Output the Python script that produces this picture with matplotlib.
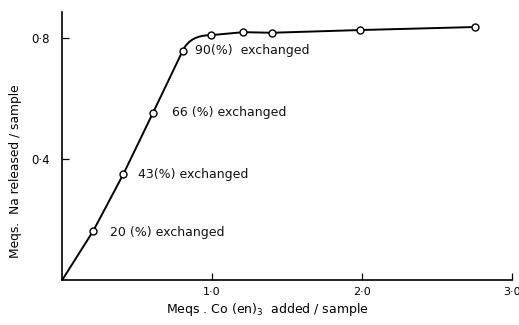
import numpy as np
import matplotlib
matplotlib.use("Agg")
import matplotlib.pyplot as plt

# Co(en)3 added vs Na released (meq per sample)
co_added = [0.209, 0.409, 0.605, 0.805, 0.991, 1.209, 1.398, 1.987, 2.755]
na_released = [0.164, 0.351, 0.552, 0.759, 0.810, 0.820, 0.818, 0.827, 0.837]

labels = ["20 (%) exchanged", "43(%) exchanged", "66 (%) exchanged", "90(%)  exchanged"]
label_pos = [(0.32, 0.158), (0.505, 0.349), (0.73, 0.554), (0.885, 0.758)]

x_ticks = [1.0, 2.0, 3.0]
x_ticklabels = ["1·0", "2·0", "3·0"]
y_ticks = [0.4, 0.8]
y_ticklabels = ["0·4", "0·8"]

plt.rcParams['font.family'] = ['DejaVu Sans']

fig = plt.figure(figsize=(5.19, 3.25), dpi=100)
ax = fig.add_axes([0.1195, 0.1375, 0.867, 0.825])

# fitted curve: straight rise from the origin, rounded knee, then near-flat plateau
x0, y0 = co_added[3], na_released[3]
x2, y2 = co_added[4], na_released[4]
slope = (na_released[3] - na_released[2]) / (co_added[3] - co_added[2])
cx = x0 + (y2 - y0) / slope
t = np.linspace(0, 1, 40)
bx = (1 - t) ** 2 * x0 + 2 * (1 - t) * t * cx + t ** 2 * x2
by = (1 - t) ** 2 * y0 + 2 * (1 - t) * t * y2 + t ** 2 * y2
curve_x = np.concatenate([[0.0], co_added[:3], bx, co_added[5:]])
curve_y = np.concatenate([[0.0], na_released[:3], by, na_released[5:]])
ax.plot(curve_x, curve_y, color="black", lw=1.4, zorder=2)

ax.plot(co_added, na_released, linestyle="none", marker="o", markersize=5,
        markerfacecolor="white", markeredgecolor="black", markeredgewidth=1.0, zorder=3)

for txt, (tx, ty) in zip(labels, label_pos):
    ax.text(tx, ty, txt, fontsize=9, va="center", ha="left", color="#111111")

ax.set_xlim(0, 3.0)
ax.set_ylim(0, 0.886)
ax.spines["top"].set_visible(False)
ax.spines["right"].set_visible(False)
ax.spines["left"].set_linewidth(1.2)
ax.spines["bottom"].set_linewidth(1.2)
ax.set_xticks(x_ticks)
ax.set_xticklabels(x_ticklabels, fontsize=8)
ax.set_yticks(y_ticks)
ax.set_yticklabels(y_ticklabels, fontsize=8.5)
ax.tick_params(direction="in", length=5, width=0.9)
ax.tick_params(axis="x", pad=5)
ax.tick_params(axis="y", pad=8.5)

ax.set_xlabel("Meqs . Co (en)$_3$  added / sample", fontsize=9)
ax.set_ylabel("Meqs.  Na released / sample", fontsize=8.8)
ax.xaxis.set_label_coords(0.456, -0.077)
ax.yaxis.set_label_coords(-0.09, 0.408)

fig.savefig("out.png", dpi=100)
